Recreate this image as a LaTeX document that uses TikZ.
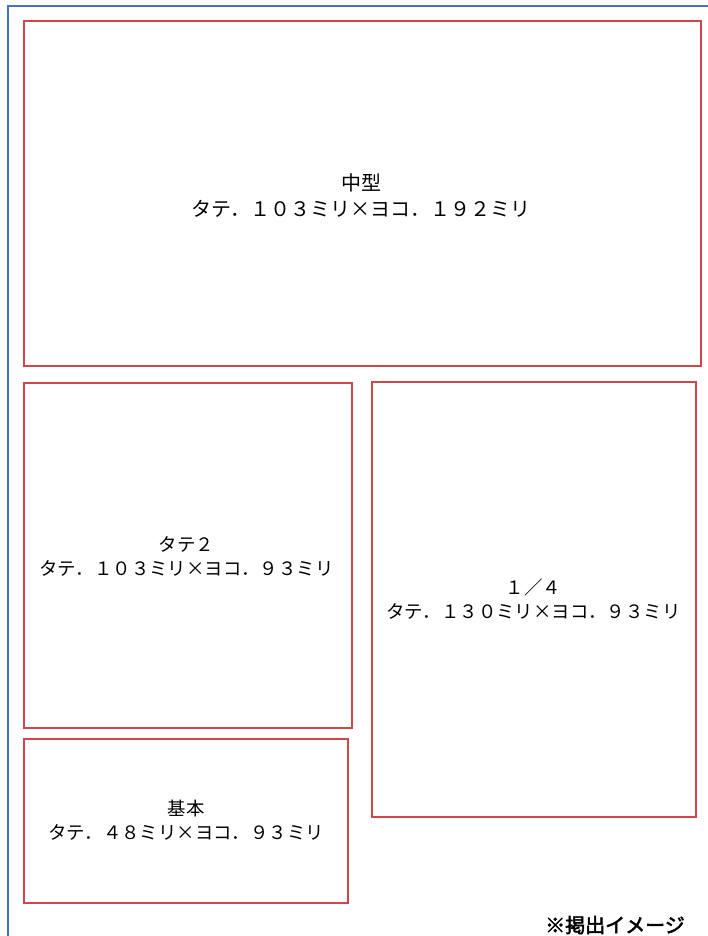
\documentclass[tikz,border=0pt]{standalone}
\usepackage{fontspec}
\newfontfamily\jp{Noto Sans CJK JP}
\newfontfamily\jpb{Noto Sans CJK JP}[FakeBold=2.5]
\definecolor{frameblue}{RGB}{68,114,196}
\definecolor{boxred}{RGB}{205,72,78}
\tikzset{
  sizebox/.style={draw=boxred, line width=1.6pt},
  bigtxt/.style={font=\jp\fontsize{20pt}{26pt}\selectfont, align=center, inner sep=0pt},
  smalltxt/.style={font=\jp\fontsize{18.4pt}{23.5pt}\selectfont, align=center, inner sep=0pt},
  notetxt/.style={font=\jpb\fontsize{20pt}{24pt}\selectfont, anchor=east, inner sep=0pt}
}
\begin{document}
\begin{tikzpicture}[x=1pt,y=-1pt]
\useasboundingbox (0,0) rectangle (707,936);
\draw[frameblue, line width=1.4pt] (8,940) -- (8,6) -- (710,6);
\draw[sizebox] (24,21) rectangle (701,366);
\draw[sizebox] (24,383) rectangle (352,728);
\draw[sizebox] (372,382) rectangle (696,817);
\draw[sizebox] (24,739) rectangle (348,903);
\node[bigtxt] (chugata) at (361,196) {中型\\タテ．１０３ミリ×ヨコ．１９２ミリ};
\node[smalltxt] (tate2) at (186.5,556.5) {タテ２\\タテ．１０３ミリ×ヨコ．９３ミリ};
\node[smalltxt] (quarter) at (533.5,599) {１／４\\タテ．１３０ミリ×ヨコ．９３ミリ};
\node[smalltxt] (kihon) at (186,820) {基本\\タテ．４８ミリ×ヨコ．９３ミリ};
\node[notetxt] (note) at (685,925) {※掲出イメージ};
\end{tikzpicture}
\end{document}
